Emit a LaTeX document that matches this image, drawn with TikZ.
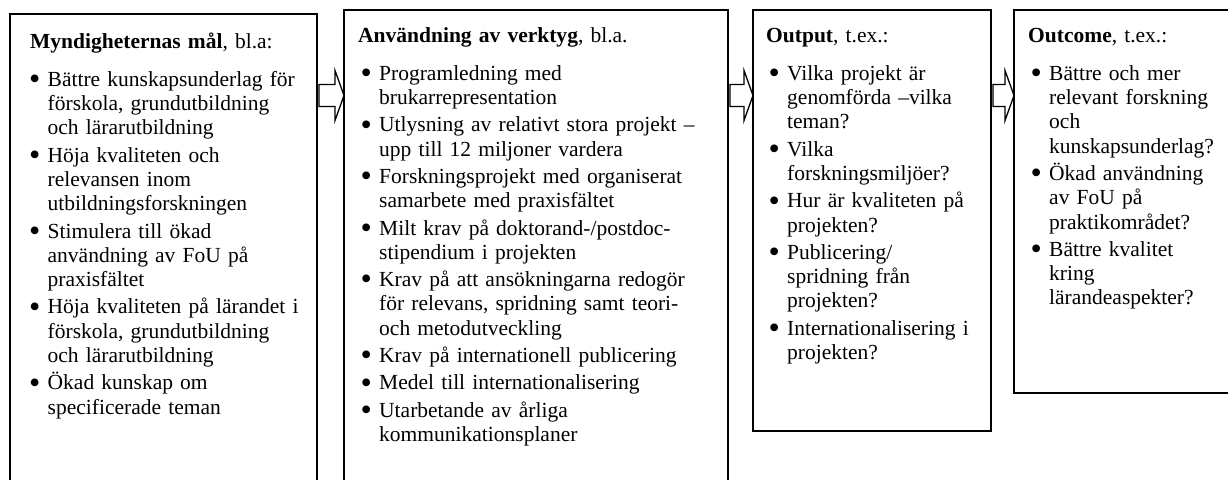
\documentclass[tikz,border=0pt]{standalone}
\usepackage{fontspec}
\setmainfont{Liberation Serif}
\usetikzlibrary{calc}
\newcommand\bigbullet{\smash{\raisebox{-3.3pt}{\scalebox{1.5}{\textbullet}}}}
\newenvironment{blist}[1]{\begin{list}{\bigbullet}{\setlength\leftmargin{#1}\setlength\labelwidth{0pt}\setlength\labelsep{13pt}\renewcommand\makelabel[1]{\makebox[0pt][c]{##1}}\setlength\itemsep{3pt}\setlength\parsep{0pt}\setlength\topsep{0pt}\setlength\partopsep{0pt}\setlength\itemindent{0pt}}}{\end{list}}
\newcommand\blockarrow[2]{\path[arrowline] let \p1=(#1.north east), \p2=(#2.north west) in
  (\x1+2pt,-84.5pt) -- (\x2-9pt,-84.5pt) -- (\x2-9pt,-70.5pt) -- (\x2,-95.5pt) -- (\x2-9pt,-120.5pt) -- (\x2-9pt,-106.5pt) -- (\x1+2pt,-106.5pt) -- cycle;}
\begin{document}
\begin{tikzpicture}[x=1pt,y=1pt,
  frame/.style={draw=black, line width=1.6pt, inner sep=0pt, outer sep=0pt, anchor=north west},
  txt/.style={inner sep=0pt, anchor=north west, align=left, font=\fontsize{21.5}{24.3}\selectfont},
  arrowline/.style={draw=black, line width=1.3pt, fill=white, line join=miter}]
\useasboundingbox (0,0) rectangle (1228,-479);
\node[frame, minimum width=307pt, minimum height=560pt] (b1) at (10,-14) {};
\node[frame, minimum width=384pt, minimum height=560pt] (b2) at (344,-10) {};
\node[frame, minimum width=238pt, minimum height=421pt] (b3) at (753,-10) {};
\node[frame, minimum width=260pt, minimum height=383pt] (b4) at (1014,-10) {};
\node[txt, text width=290pt] (t1) at ($(b1.north west)+(20,-17)$) {\raggedright\strut\textbf{Myndigheternas mål}, bl.a:\par\vspace{13.7pt}
\begin{blist}{17.5pt}
\item Bättre kunskapsunderlag för\\ förskola, grundutbildning\\ och lärarutbildning
\item Höja kvaliteten och\\ relevansen inom\\ utbildningsforskningen
\item Stimulera till ökad\\ användning av FoU på\\ praxisfältet
\item Höja kvaliteten på lärandet i\\ förskola, grundutbildning\\ och lärarutbildning
\item Ökad kunskap om\\ specificerade teman
\end{blist}};
\node[txt, text width=370pt] (t2) at ($(b2.north west)+(14,-15)$) {\raggedright\strut\textbf{Användning av verktyg}, bl.a.\par\vspace{13.7pt}
\begin{blist}{21pt}
\item Programledning med\\ brukarrepresentation
\item Utlysning av relativt stora projekt –\\ upp till 12 miljoner vardera
\item Forskningsprojekt med organiserat\\ samarbete med praxisfältet
\item Milt krav på doktorand-/postdoc-\\ stipendium i projekten
\item Krav på att ansökningarna redogör\\ för relevans, spridning samt teori-\\ och metodutveckling
\item Krav på internationell publicering
\item Medel till internationalisering
\item Utarbetande av årliga\\ kommunikationsplaner
\end{blist}};
\node[txt, text width=225pt] (t3) at ($(b3.north west)+(13,-15)$) {\raggedright\strut\textbf{Output}, t.ex.:\par\vspace{13.7pt}
\begin{blist}{21pt}
\item Vilka projekt är\\ genomförda –vilka\\ teman?
\item Vilka\\ forskningsmiljöer?
\item Hur är kvaliteten på\\ projekten?
\item Publicering/\\ spridning från\\ projekten?
\item Internationalisering i\\ projekten?
\end{blist}};
\node[txt, text width=200pt] (t4) at ($(b4.north west)+(14,-15)$) {\raggedright\strut\textbf{Outcome}, t.ex.:\par\vspace{13.7pt}
\begin{blist}{21pt}
\item Bättre och mer\\ relevant forskning\\ och\\ kunskapsunderlag?
\item Ökad användning\\ av FoU på\\ praktikområdet?
\item Bättre kvalitet\\ kring\\ lärandeaspekter?
\end{blist}};
\blockarrow{b1}{b2}
\blockarrow{b2}{b3}
\blockarrow{b3}{b4}
\end{tikzpicture}
\end{document}
